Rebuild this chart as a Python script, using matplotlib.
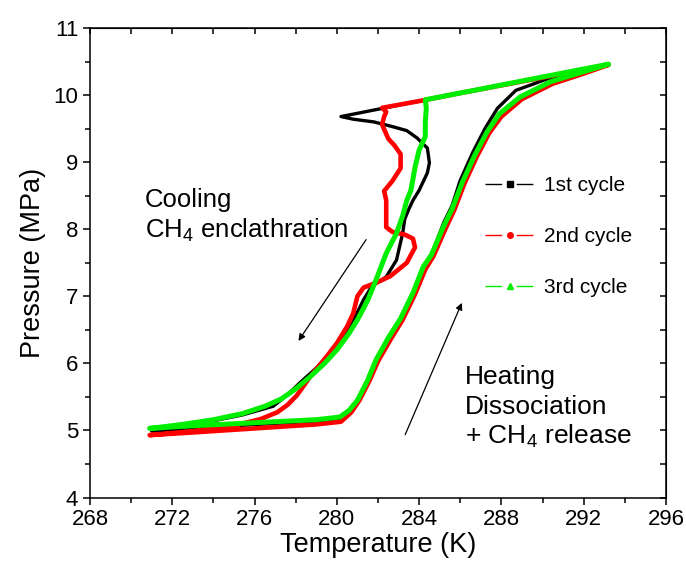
import numpy as np
import matplotlib.pyplot as plt
from matplotlib.lines import Line2D
from matplotlib.ticker import MultipleLocator

plt.rcParams['font.family'] = ['Liberation Sans', 'DejaVu Sans']
plt.rcParams['mathtext.fontset'] = 'custom'
plt.rcParams['mathtext.rm'] = 'Liberation Sans'

# cycle 1 (black)
t1_cool = [293.2, 290.0, 286.0, 283.0, 281.2, 280.2, 280.8, 281.8, 282.7, 283.4, 283.9, 284.4,
           284.5, 284.4, 284.0, 283.7, 283.5, 283.3, 283.2, 282.9, 282.4, 281.7, 281.3, 280.9,
           280.4, 279.7, 279.0, 278.2, 277.6, 276.9, 275.4, 273.6, 271.0]
p1_cool = [10.46, 10.27, 10.03, 9.85, 9.74, 9.68, 9.64, 9.60, 9.53, 9.47, 9.36, 9.21,
           8.99, 8.84, 8.58, 8.43, 8.30, 8.15, 7.94, 7.54, 7.29, 7.15, 6.95, 6.70,
           6.45, 6.16, 5.93, 5.71, 5.53, 5.36, 5.23, 5.12, 5.00]
t1_heat = [271.0, 275.0, 280.2, 280.6, 281.0, 281.5, 281.9, 282.5, 283.1, 283.7, 284.2, 284.6,
           285.2, 285.6, 286.0, 286.6, 287.2, 287.8, 288.7, 290.4, 291.8, 293.2]
p1_heat = [4.99, 5.07, 5.16, 5.28, 5.45, 5.75, 6.03, 6.36, 6.67, 7.05, 7.42, 7.62,
           8.10, 8.35, 8.73, 9.14, 9.50, 9.80, 10.07, 10.26, 10.36, 10.46]

# cycle 2 (red)
t2_cool = [293.2, 290.0, 286.0, 284.0, 282.2, 282.4, 282.3, 282.2, 282.5, 282.8, 283.1, 283.1,
           282.7, 282.3, 282.4, 282.4, 282.7, 283.3, 283.7, 283.8, 283.4, 282.6, 281.9, 281.3,
           281.0, 280.8, 280.5, 280.0, 279.5, 278.7, 278.05, 277.6, 277.1, 276.3, 275.0, 273.0, 270.9]
p2_cool = [10.45, 10.26, 10.03, 9.91, 9.81, 9.75, 9.68, 9.56, 9.35, 9.25, 9.12, 8.91,
           8.72, 8.57, 8.43, 8.03, 7.96, 7.92, 7.86, 7.73, 7.50, 7.30, 7.20, 7.13,
           7.00, 6.75, 6.55, 6.30, 6.10, 5.80, 5.52, 5.38, 5.27, 5.17, 5.07, 4.99, 4.93]
t2_heat = [270.9, 273.0, 275.0, 277.0, 279.0, 280.2, 280.7, 281.1, 281.6, 282.0, 282.6, 283.2,
           283.8, 284.3, 284.7, 285.3, 285.7, 286.2, 286.8, 287.4, 288.0, 289.0, 290.5, 291.9, 293.2]
p2_heat = [4.93, 4.97, 5.01, 5.05, 5.09, 5.13, 5.27, 5.45, 5.75, 6.03, 6.35, 6.65,
           7.03, 7.40, 7.60, 8.02, 8.28, 8.68, 9.08, 9.43, 9.68, 9.94, 10.17, 10.31, 10.45]

# cycle 3 (green)
t3_cool = [293.2, 290.0, 287.0, 284.3, 284.35, 284.3, 284.3, 284.0, 283.8, 283.6, 283.4, 283.2,
           282.9, 282.4, 281.9, 281.5, 281.0, 280.6, 280.0, 279.4, 278.7, 278.0, 277.3, 276.5,
           275.4, 274.0, 272.5, 270.9]
p3_cool = [10.46, 10.27, 10.09, 9.93, 9.80, 9.60, 9.38, 9.18, 8.92, 8.58, 8.43, 8.20,
           7.94, 7.64, 7.24, 6.94, 6.65, 6.45, 6.20, 6.00, 5.80, 5.62, 5.47, 5.36,
           5.25, 5.16, 5.09, 5.03]
t3_heat = [270.9, 273.0, 275.0, 277.0, 279.0, 280.15, 280.6, 281.0, 281.5, 281.9, 282.5, 283.1,
           283.7, 284.2, 284.6, 285.2, 285.6, 286.1, 286.7, 287.3, 287.9, 288.9, 290.4, 291.8, 293.2]
p3_heat = [5.03, 5.07, 5.10, 5.13, 5.16, 5.20, 5.30, 5.45, 5.75, 6.05, 6.38, 6.67,
           7.05, 7.44, 7.62, 8.05, 8.30, 8.70, 9.10, 9.45, 9.72, 9.97, 10.20, 10.33, 10.46]

labels = ['1st cycle', '2nd cycle', '3rd cycle']
colors = ['black', '#ff0000', '#00ee00']
markers = ['s', 'o', '^']

fig = plt.figure(figsize=(6.86, 5.68), dpi=100)
ax = fig.add_axes([0.1312, 0.1241, 0.8396, 0.8266])

cycles = [(t1_cool + t1_heat, p1_cool + p1_heat),
          (t2_cool + t2_heat, p2_cool + p2_heat),
          (t3_cool + t3_heat, p3_cool + p3_heat)]
widths = [2.4, 3.3, 3.6]
for (t, p), c, w in zip(cycles, colors, widths):
    ax.plot(t, p, color=c, lw=w, solid_joinstyle='round', solid_capstyle='round')

ax.set_xlim(268, 296)
ax.set_ylim(4, 11)
ax.xaxis.set_major_locator(MultipleLocator(4))
ax.xaxis.set_minor_locator(MultipleLocator(2))
ax.yaxis.set_major_locator(MultipleLocator(1))
ax.yaxis.set_minor_locator(MultipleLocator(0.5))
ax.tick_params(which='both', direction='out', labelsize=16, width=1.1)
ax.tick_params(which='major', length=5)
ax.tick_params(which='minor', length=3.5)
for s in ax.spines.values():
    s.set_linewidth(1.1)

top = ax.secondary_xaxis('top')
top.xaxis.set_major_locator(MultipleLocator(4))
top.xaxis.set_minor_locator(MultipleLocator(2))
top.tick_params(which='both', direction='in', labeltop=False, width=1.1, length=4)
right = ax.secondary_yaxis('right')
right.yaxis.set_major_locator(MultipleLocator(1))
right.yaxis.set_minor_locator(MultipleLocator(0.5))
right.tick_params(which='both', direction='in', labelright=False, width=1.1, length=4)

ax.set_xlabel('Temperature (K)', fontsize=19.5, labelpad=1)
ax.set_ylabel('Pressure (MPa)', fontsize=19.5, labelpad=5)

# legend
handles = [Line2D([], [], color=c, lw=1, marker=m, markersize=4, linestyle=(0, (12, 10.5)))
           for c, m in zip(colors, markers)]
ax.legend(handles, labels, loc='upper left', bbox_to_anchor=(0.686, 0.685), frameon=False,
          fontsize=15, labelspacing=1.55, handlelength=2.4, handletextpad=0.45,
          borderpad=0, borderaxespad=0, numpoints=1)

# annotations
ax.text(270.67, 8.33, 'Cooling', fontsize=18.5, va='baseline')
ax.text(270.67, 7.87, r'CH$_\mathrm{4}$ enclathration', fontsize=18.5, va='baseline')
ax.text(286.23, 5.69, 'Heating', fontsize=19, va='baseline')
ax.text(286.23, 5.24, 'Dissociation', fontsize=19, va='baseline')
ax.text(286.23, 4.80, r'+ CH$_\mathrm{4}$ release', fontsize=19, va='baseline')

ax.annotate('', xy=(278.06, 6.30), xytext=(281.5, 7.88),
            arrowprops=dict(arrowstyle='-|>', color='black', lw=0.9, mutation_scale=10))
ax.annotate('', xy=(286.13, 6.94), xytext=(283.27, 4.90),
            arrowprops=dict(arrowstyle='-|>', color='black', lw=0.9, mutation_scale=10))

fig.savefig('out.png', dpi=100)
